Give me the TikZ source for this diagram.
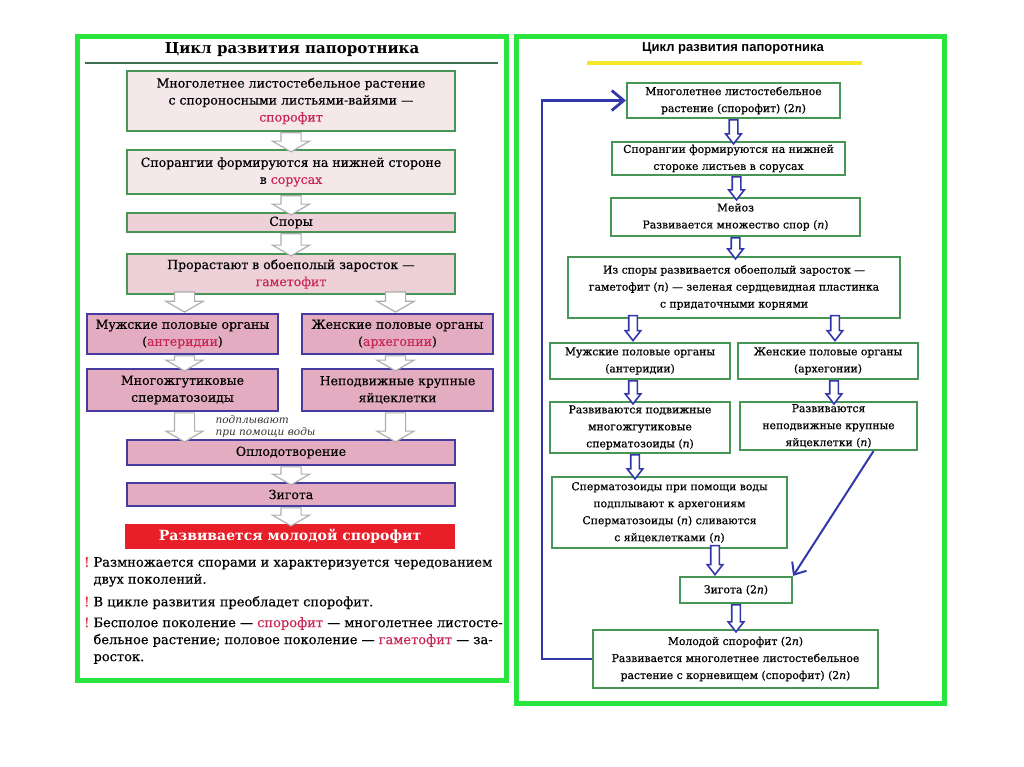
\documentclass[tikz,border=0pt]{standalone}
\usepackage{fontspec}
\setmainfont{DejaVu Serif}
\newfontfamily\headfont{Liberation Sans}
\newfontfamily\plainfont{DejaVu Serif}[FakeBold=0.4]
\newfontfamily\rightfont{DejaVu Serif}[FakeBold=0.6]
\usepackage{color}
\usepackage{tikz}
\usetikzlibrary{shapes.arrows,arrows.meta}

\definecolor{framegreen}{RGB}{40,228,60}
\definecolor{boxgreen}{RGB}{70,150,85}
\definecolor{linegreen}{RGB}{60,110,80}
\definecolor{boxblue}{RGB}{70,60,160}
\definecolor{arrowblue}{RGB}{50,55,170}
\definecolor{paleRose}{RGB}{244,232,234}
\definecolor{midRose}{RGB}{238,208,216}
\definecolor{deepRose}{RGB}{228,172,192}
\definecolor{crimson}{RGB}{200,40,85}
\definecolor{signred}{RGB}{232,30,40}
\definecolor{bangred}{RGB}{220,40,40}
\definecolor{titleyellow}{RGB}{245,232,40}
\definecolor{arrowgray}{RGB}{175,175,175}
\newcommand{\hl}[1]{\textcolor{crimson}{#1}}
\newcommand{\bang}{\textcolor{bangred}{!}\ }

\begin{document}
\begin{tikzpicture}[x=1pt,y=-1pt]
  \tikzstyle{leftbox}=[rectangle,draw=boxgreen,line width=2.5pt,fill=paleRose,inner sep=0pt,align=center,minimum width=328pt,font=\plainfont\fontsize{12.5}{17}\selectfont]
  \tikzstyle{sexbox}=[leftbox,draw=boxblue,fill=deepRose,minimum width=191pt,minimum height=40pt]
  \tikzstyle{fusebox}=[leftbox,draw=boxblue,fill=deepRose]
  \tikzstyle{redbox}=[rectangle,fill=signred,text=white,inner sep=0pt,minimum width=330pt,minimum height=25pt,font=\bfseries\fontsize{14}{16}\selectfont]
  \tikzstyle{rightbox}=[rectangle,draw=boxgreen,line width=2.2pt,fill=white,inner sep=0pt,align=center,font=\rightfont\fontsize{10.8}{17}\selectfont]
  \tikzstyle{garrow}=[single arrow,draw=arrowgray,fill=white,line width=1.2pt,rotate=-90,anchor=tail,inner xsep=0pt,inner ysep=9.5pt,single arrow head extend=8.5pt,single arrow tip angle=120]
  \tikzstyle{barrow}=[single arrow,draw=arrowblue,fill=white,line width=1.6pt,rotate=-90,anchor=tail,inner xsep=0pt,inner ysep=3.5pt,single arrow head extend=3.5pt,single arrow tip angle=76]
  \tikzstyle{note}=[anchor=north west,align=left,inner sep=0pt,font=\plainfont\fontsize{13}{17}\selectfont]
  \tikzstyle{feedback}=[arrowblue,line width=2.8pt,-{Straight Barb[length=12pt,width=20pt]}]

  \useasboundingbox (0,0) rectangle (1024,767);

  % frames
  \draw[framegreen,line width=5pt] (77.5,36.5) rectangle (506.5,680.5);
  \draw[framegreen,line width=5pt] (516.5,36.5) rectangle (944.5,703.5);

  % left panel
  \node[font=\bfseries\fontsize{15}{18}\selectfont] (ltitle) at (292,50) {Цикл развития папоротника};
  \draw[linegreen,line width=2pt] (85,63) -- (498,63);

  \node[leftbox,minimum height=60pt] (l1) at (291,101) {Многолетнее листостебельное растение\\с спороносными листьями-вайями —\\\hl{спорофит}};
  \node[leftbox,minimum height=44pt] (l2) at (291,172) {Спорангии формируются на нижней стороне\\в \hl{сорусах}};
  \node[leftbox,minimum height=19pt,fill=midRose] (l3) at (291,222.5) {Споры};
  \node[leftbox,minimum height=40pt,fill=midRose] (l4) at (291,274) {Прорастают в обоеполый заросток —\\\hl{гаметофит}};

  \node[sexbox] (l5a) at (182.5,334) {Мужские половые органы\\(\hl{антеридии})};
  \node[sexbox] (l5b) at (397.5,334) {Женские половые органы\\(\hl{архегонии})};
  \node[sexbox,minimum height=42pt] (l6a) at (182.5,390) {Многожгутиковые\\сперматозоиды};
  \node[sexbox,minimum height=42pt] (l6b) at (397.5,390) {Неподвижные крупные\\яйцеклетки};

  \node[font=\itshape\fontsize{10.5}{11.5}\selectfont,align=left,anchor=west,text=black!80] (lwater) at (212,426.5) {подплывают\\при помощи воды};

  \node[fusebox,minimum height=25pt] (l7) at (291,452.5) {Оплодотворение};
  \node[fusebox,minimum height=23pt] (l8) at (291,494.5) {Зигота};
  \node[redbox] (l9) at (290,536.5) {Развивается молодой спорофит};

  \node[garrow,minimum height=19pt] (g12) at (l1.south) {};
  \node[garrow,minimum height=19pt] (g23) at (l2.south) {};
  \node[garrow,minimum height=22pt] (g34) at (l3.south) {};
  \node[garrow,minimum height=20pt,anchor=tip] (g45a) at ([xshift=2pt]l5a.north) {};
  \node[garrow,minimum height=20pt,anchor=tip] (g45b) at ([xshift=-2pt]l5b.north) {};
  \node[garrow,minimum height=15pt] (g56a) at ([xshift=2pt]l5a.south) {};
  \node[garrow,minimum height=15pt] (g56b) at ([xshift=-2pt]l5b.south) {};
  \node[garrow,minimum height=29pt] (g67a) at ([xshift=2pt]l6a.south) {};
  \node[garrow,minimum height=29pt] (g67b) at ([xshift=-2pt]l6b.south) {};
  \node[garrow,minimum height=18pt] (g78) at (l7.south) {};
  \node[garrow,minimum height=18pt] (g89) at (l8.south) {};

  % notes
  \node[note] (t1) at (84,557) {\bang Размножается спорами и характеризуется чередованием\\\phantom{\bang}двух поколений.};
  \node[note] (t2) at (84,596) {\bang В цикле развития преобладет спорофит.};
  \node[note] (t3) at (84,617) {\bang Бесполое поколение — \hl{спорофит} — многолетнее листосте-\\\phantom{\bang}бельное растение; половое поколение — \hl{гаметофит} — за-\\\phantom{\bang}росток.};

  % right panel
  \node[font=\headfont\bfseries\fontsize{13}{14}\selectfont] (rtitle) at (733,48) {Цикл развития папоротника};
  \draw[titleyellow,line width=4pt] (587,63) -- (862,63);

  \node[rightbox,minimum width=213pt,minimum height=35pt] (r1) at (733.5,100.5) {Многолетнее листостебельное\\растение (спорофит) (2\textit{n})};
  \node[rightbox,minimum width=233pt,minimum height=33pt] (r2) at (728.5,158.5) {Спорангии формируются на нижней\\стороке листьев в сорусах};
  \node[rightbox,minimum width=249pt,minimum height=38pt] (r3) at (735.5,217) {Мейоз\\Развивается множество спор (\textit{n})};
  \node[rightbox,minimum width=332pt,minimum height=61pt] (r4) at (734,287.5) {Из споры развивается обоеполый заросток —\\гаметофит (\textit{n}) — зеленая сердцевидная пластинка\\с придаточными корнями};
  \node[rightbox,minimum width=180pt,minimum height=36pt] (r5a) at (640,361) {Мужские половые органы\\(антеридии)};
  \node[rightbox,minimum width=180pt,minimum height=36pt] (r5b) at (828,361) {Женские половые органы\\(архегонии)};
  \node[rightbox,minimum width=180pt,minimum height=51pt] (r6a) at (640,427.5) {Развиваются подвижные\\многожгутиковые\\сперматозоиды (\textit{n})};
  \node[rightbox,minimum width=177pt,minimum height=48pt] (r6b) at (828.5,426) {Развиваются\\неподвижные крупные\\яйцеклетки (\textit{n})};
  \node[rightbox,minimum width=235pt,minimum height=71pt] (r7) at (669.5,512.5) {Сперматозоиды при помощи воды\\подплывают к архегониям\\Сперматозоиды (\textit{n}) сливаются\\с яйцеклетками (\textit{n})};
  \node[rightbox,minimum width=112pt,minimum height=26pt] (r8) at (736,590) {Зигота (2\textit{n})};
  \node[rightbox,minimum width=285pt,minimum height=58pt] (r9) at (735.5,659) {Молодой спорофит (2\textit{n})\\Развивается многолетнее листостебельное\\растение с корневищем (спорофит) (2\textit{n})};

  % edges
  \node[barrow,minimum height=24pt] (b12) at (r1.south) {};
  \node[barrow,minimum height=23pt] (b23) at ([xshift=8pt]r2.south) {};
  \node[barrow,minimum height=21pt] (b34) at (r3.south) {};
  \node[barrow,minimum height=25pt,anchor=tip] (b45a) at ([xshift=-7pt]r5a.north) {};
  \node[barrow,minimum height=25pt,anchor=tip] (b45b) at ([xshift=7pt]r5b.north) {};
  \node[barrow,minimum height=23pt] (b56a) at ([xshift=-7pt]r5a.south) {};
  \node[barrow,minimum height=23pt] (b56b) at ([xshift=6pt]r5b.south) {};
  \node[barrow,minimum height=24pt] (b67) at ([xshift=-5pt]r6a.south) {};
  \node[barrow,minimum height=29pt,anchor=tip] (b78) at ([xshift=-21pt]r8.north) {};
  \node[barrow,minimum height=27pt] (b89) at (r8.south) {};

  \draw[arrowblue,line width=2pt,-{Straight Barb[length=10pt,width=17pt]}] ([xshift=45pt]r6b.south) -- (r8.north east);
  \draw[feedback] (r9.west) -- ++(-50,0) |- (r1.west);

\end{tikzpicture}
\end{document}
